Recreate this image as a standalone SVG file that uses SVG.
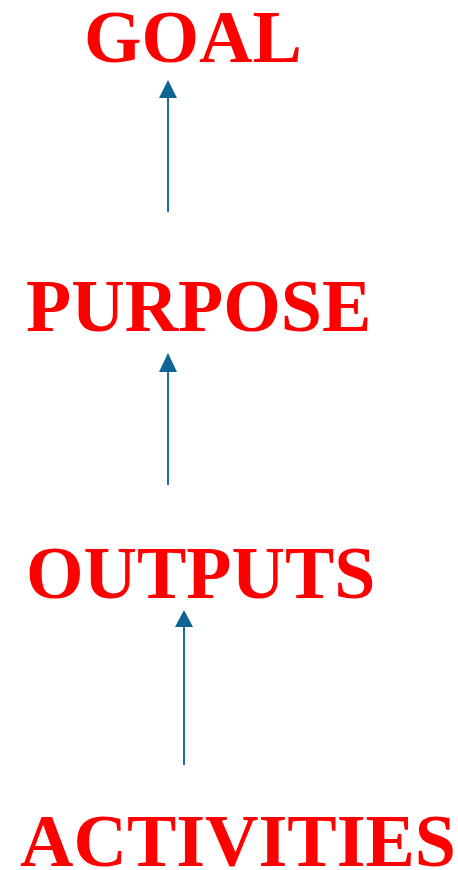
<svg xmlns="http://www.w3.org/2000/svg" width="458" height="870" viewBox="0 0 458 870">
<style>
.t{font-family:"Liberation Serif","Times New Roman",serif;font-weight:bold;font-size:74px;fill:#ff0000}
.c{stroke:#1a6fa0;stroke-width:2;fill:none}
</style>
<rect width="458" height="870" fill="#ffffff"/>
<g id="goal"><text class="t" x="84" y="62">GOAL</text></g>
<g id="purpose"><text class="t" x="26" y="331">PURPOSE</text></g>
<g id="outputs"><text class="t" x="26" y="598">OUTPUTS</text></g>
<g id="activities"><text class="t" x="20" y="866">ACTIVITIES</text></g>
<g id="connectors">
<line class="c" x1="168" y1="212" x2="168" y2="97"/>
<polygon points="168,80 159,98 177,98" fill="#0f6496"/>
<line class="c" x1="168" y1="485" x2="168" y2="371"/>
<polygon points="168,353 159,372 177,372" fill="#0f6496"/>
<line class="c" x1="184" y1="765" x2="184" y2="626"/>
<polygon points="184,610 175,627 193,627" fill="#0f6496"/>
</g>
</svg>
